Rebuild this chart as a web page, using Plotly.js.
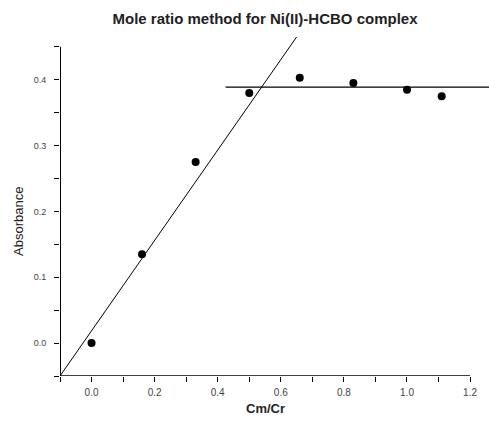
<!DOCTYPE html>
<html>
<head>
<meta charset="utf-8">
<script src="https://cdn.plot.ly/plotly-3.0.1.min.js"></script>
<style>html,body{margin:0;padding:0;background:#fff;}#chart{width:489px;height:421px;}</style>
</head>
<body>
<div id="chart"></div>
<script>
// Measured points
const ratioCmCr = [0, 0.16, 0.33, 0.5, 0.66, 0.83, 1.0, 1.11];
const absorbance = [0.0, 0.135, 0.275, 0.38, 0.403, 0.395, 0.385, 0.375];
// Fitted lines (end points)
const riseLineX = [-0.1, 0.65];
const riseLineY = [-0.05, 0.465];
const plateauLineX = [0.425, 1.26];
const plateauLineY = [0.389, 0.389];
// Axis ticks
const xTicks = [0.0, 0.2, 0.4, 0.6, 0.8, 1.0, 1.2];
const xTickText = ['0.0', '0.2', '0.4', '0.6', '0.8', '1.0', '1.2'];
const yTicks = [0.0, 0.1, 0.2, 0.3, 0.4];
const yTickText = ['0.0', '0.1', '0.2', '0.3', '0.4'];

const font = 'Arial, "Liberation Sans", sans-serif';

const traces = [
  {x: riseLineX, y: riseLineY, mode: 'lines', line: {color: '#000', width: 1}, hoverinfo: 'skip', showlegend: false},
  {x: plateauLineX, y: plateauLineY, mode: 'lines', line: {color: '#000', width: 1.3}, hoverinfo: 'skip', showlegend: false},
  {x: ratioCmCr, y: absorbance, mode: 'markers', marker: {color: '#000', size: 8}, showlegend: false}
];

const layout = {
  width: 489, height: 421,
  margin: {l: 60, r: 0, t: 37, b: 45},
  paper_bgcolor: '#fff', plot_bgcolor: '#fff',
  font: {family: font, color: '#000'},
  showlegend: false,
  title: {text: '<b>Mole ratio method for Ni(II)-HCBO complex</b>', font: {family: font, size: 15, color: '#222'},
          xref: 'container', x: 0.542, xanchor: 'center', yref: 'container', y: 0.956, yanchor: 'middle'},
  xaxis: {
    range: [-0.1, 1.26], showgrid: false, zeroline: false, showline: false,
    tickmode: 'array', tickvals: xTicks, ticktext: xTickText,
    ticks: 'outside', ticklen: 5, tickwidth: 1, tickcolor: '#000',
    tickfont: {family: font, size: 10, color: '#444'}, ticklabelstandoff: 2,
    minor: {dtick: 0.1, tick0: 0, ticks: 'outside', ticklen: 5, tickwidth: 1, tickcolor: '#000', showgrid: false}
  },
  yaxis: {
    range: [-0.05, 0.465], showgrid: false, zeroline: false, showline: false,
    tickmode: 'array', tickvals: yTicks, ticktext: yTickText,
    ticks: 'outside', ticklen: 5, tickwidth: 1, tickcolor: '#000',
    tickfont: {family: font, size: 9, color: '#444'}, ticklabelstandoff: 6,
    minor: {dtick: 0.05, tick0: 0, ticks: 'outside', ticklen: 5, tickwidth: 1, tickcolor: '#000', showgrid: false}
  },
  shapes: [
    {type: 'line', xref: 'x', yref: 'y', x0: -0.1, x1: -0.1, y0: -0.05, y1: 0.45, line: {color: '#000', width: 2}},
    {type: 'line', xref: 'x', yref: 'y', x0: -0.1, x1: 1.2, y0: -0.05, y1: -0.05, line: {color: '#000', width: 1.5}}
  ],
  annotations: [
    {text: '<b>Cm/Cr</b>', xref: 'x', x: 0.55, yref: 'paper', y: 0, yshift: -32, showarrow: false,
     font: {family: font, size: 13, color: '#222'}, xanchor: 'center', yanchor: 'middle'},
    {text: 'Absorbance', xref: 'paper', x: 0, xshift: -41, yref: 'y', y: 0.184, textangle: -90, showarrow: false,
     font: {family: font, size: 13, color: '#222'}, xanchor: 'center', yanchor: 'middle'}
  ]
};

Plotly.newPlot('chart', traces, layout, {displayModeBar: false, staticPlot: true});
</script>
</body>
</html>
